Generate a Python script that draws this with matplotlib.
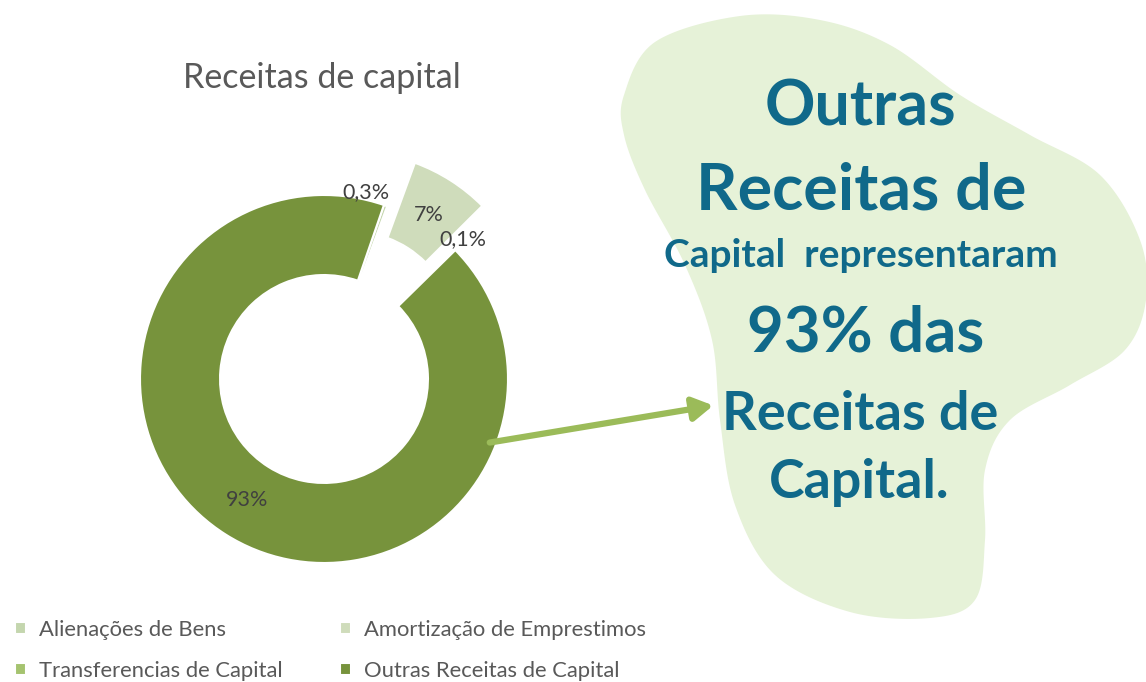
import matplotlib.pyplot as plt
import numpy as np
from matplotlib.path import Path
from matplotlib.patches import PathPatch, FancyArrowPatch

plt.rcParams['font.family'] = ['Lato', 'DejaVu Sans']

# dados
categorias = ['Alienações de Bens', 'Amortização de Emprestimos',
              'Transferencias de Capital', 'Outras Receitas de Capital']
percentuais = [0.3, 7, 0.1, 93]
cores = ['#c4d6ae', '#cfdcbb', '#a5c36f', '#77933c']
destaque = [0, 0.28, 0, 0]

W, H = 1146, 682
fig = plt.figure(figsize=(W / 100, H / 100), dpi=100)


def fx(x):
    return x / W


def fy(y):
    return 1 - y / H


# mancha verde de fundo (contorno suavizado)
contorno = np.array([
    (624, 95), (655, 42), (740, 16), (820, 20), (890, 45), (960, 95),
    (1030, 135), (1100, 175), (1140, 240), (1146, 300), (1125, 350),
    (1070, 385), (1010, 420), (985, 470), (985, 540), (975, 600),
    (930, 618), (850, 612), (775, 575), (735, 505), (720, 420),
    (712, 340), (685, 265), (645, 190), (624, 135),
], dtype=float)


def suavizar(pts, n=24):
    out = []
    N = len(pts)
    for i in range(N):
        p0, p1, p2, p3 = pts[i - 1], pts[i], pts[(i + 1) % N], pts[(i + 2) % N]
        for t in np.linspace(0, 1, n, endpoint=False):
            t2, t3 = t * t, t * t * t
            out.append(0.5 * ((2 * p1) + (-p0 + p2) * t
                              + (2 * p0 - 5 * p1 + 4 * p2 - p3) * t2
                              + (-p0 + 3 * p1 - 3 * p2 + p3) * t3))
    out = np.array(out)
    out = np.vstack([out, out[:1]])
    return np.column_stack([fx(out[:, 0]), fy(out[:, 1])])


mancha = PathPatch(Path(suavizar(contorno)), facecolor='#e6f2d8', edgecolor='none',
                   transform=fig.transFigure, zorder=0.5)
fig.patches.append(mancha)

# rosca
r_px = 184
cx, cy = 324, 379
lado = 3 * r_px
ax = fig.add_axes([fx(cx - lado / 2), fy(cy + lado / 2), lado / W, lado / H])


def fmt(p):
    if p < 1:
        return f'{p:.1f}%'.replace('.', ',')
    return f'{p:.0f}%'


wedges, texts, autotexts = ax.pie(
    percentuais, colors=cores, explode=destaque, startangle=71,
    counterclock=False, autopct=fmt, pctdistance=0.78,
    wedgeprops=dict(width=0.435, edgecolor='white', linewidth=1.5),
    textprops=dict(color='#404040', fontsize=15.5))
ax.set_xlim(-1.5, 1.5)
ax.set_ylim(-1.5, 1.5)
ax.set_aspect('equal')
ax.set_axis_off()

for w, t, v in zip(wedges, autotexts, percentuais):
    if v < 1:
        ang = np.deg2rad((w.theta1 + w.theta2) / 2)
        t.set_position((1.06 * np.cos(ang), 1.08 * np.sin(ang)))
        if np.cos(ang) < 0.5:
            t.set_ha('right')

fig.text(fx(322), fy(78), 'Receitas de capital', ha='center', va='center',
         fontsize=24.5, color='#595959')

# legenda (ordem por linhas)
ordem = [0, 2, 1, 3]
fig.legend([wedges[i] for i in ordem], [categorias[i] for i in ordem], ncol=2,
           loc='lower left', bbox_to_anchor=(-0.004, -0.027), frameon=False,
           handlelength=0.5, handleheight=0.5, handletextpad=0.6,
           columnspacing=2.6, labelspacing=0.95, fontsize=15.8,
           labelcolor='#595959')

# seta
seta = FancyArrowPatch((fx(487), fy(443)), (fx(716), fy(405)),
                       transform=fig.transFigure,
                       arrowstyle='-|>,head_length=12,head_width=7',
                       color='#9bbb59', lw=4.5, zorder=3)
fig.add_artist(seta)

# texto de destaque
azul = '#10698a'
linhas = [
    ('Outras', 860, 125, 45),
    ('Receitas de', 861, 210, 46.5),
    ('Capital  representaram', 861, 267, 28),
    ('93% das', 866, 352, 45.7),
    ('Receitas de', 860, 430, 39),
    ('Capital.', 859, 498, 38.6),
]
for txt, x, y, s in linhas:
    fig.text(fx(x), fy(y), txt, ha='center', va='baseline', fontsize=s,
             fontweight='bold', color=azul, zorder=4)

fig.savefig('out.png', dpi=100)
